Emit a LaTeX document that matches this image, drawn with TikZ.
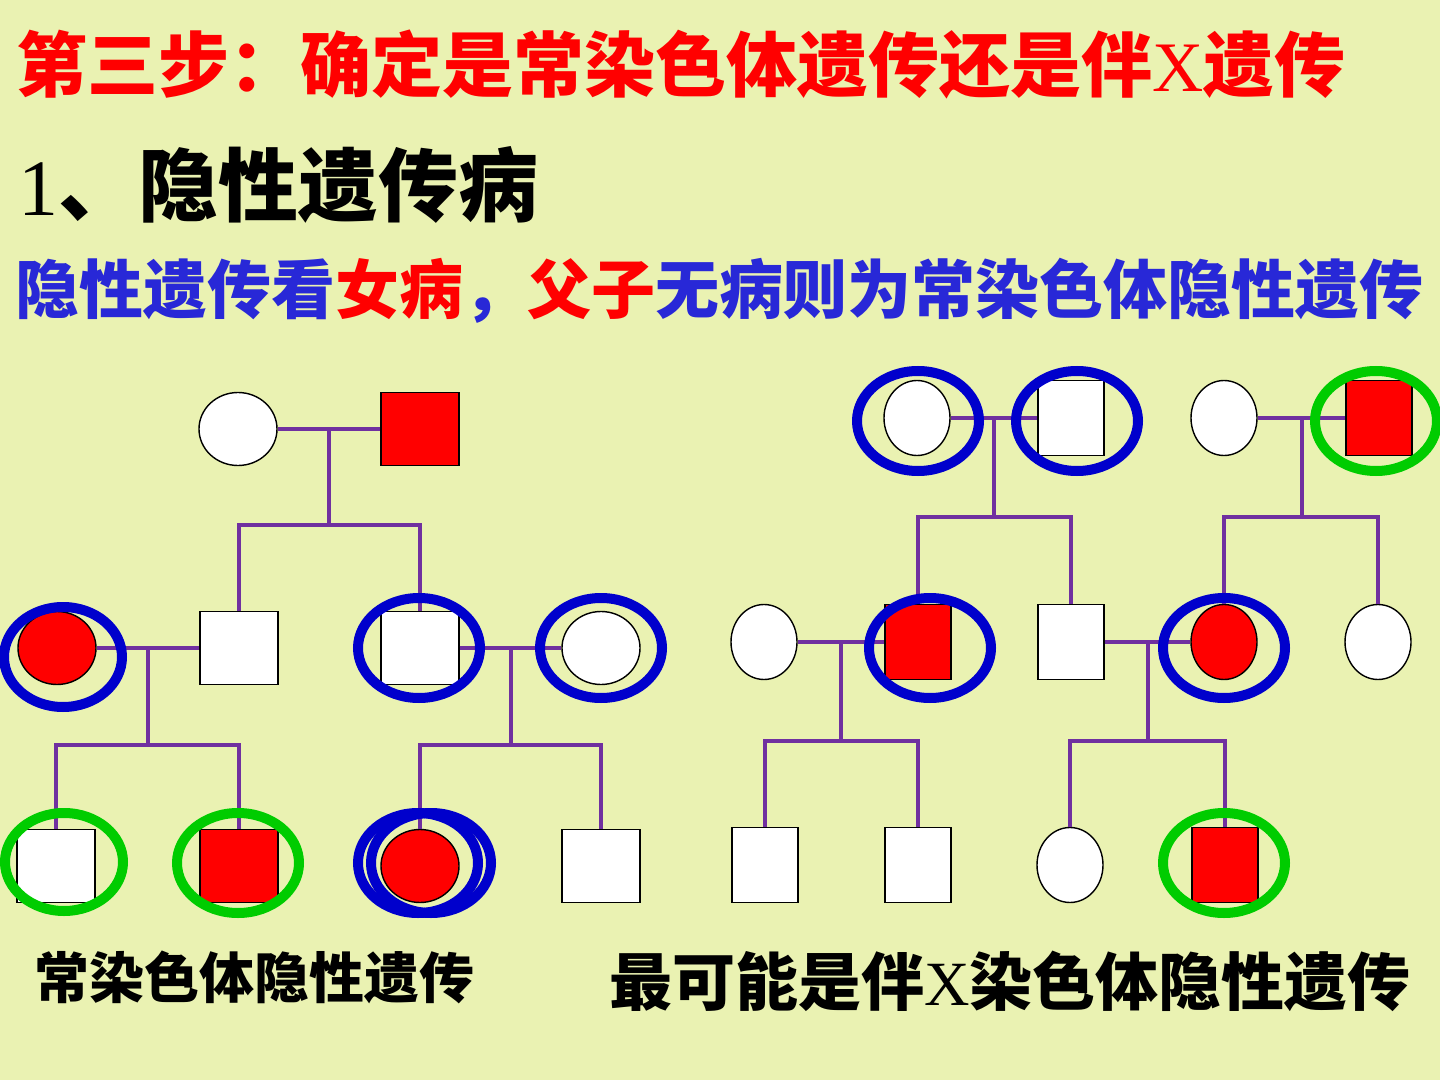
\documentclass[tikz,border=0pt]{standalone}
\usepackage{fontspec}
\setmainfont{Noto Sans CJK SC}
\newfontfamily\latin{Liberation Serif}
\usepackage{tikz}
\usetikzlibrary{shapes.geometric, calc}

\definecolor{slidebg}{RGB}{234,242,178}
\definecolor{lineviolet}{RGB}{112,48,160}
\definecolor{ringblue}{RGB}{0,0,204}
\definecolor{ringgreen}{RGB}{0,204,0}
\definecolor{txtblue}{RGB}{40,40,215}

\begin{document}
\begin{tikzpicture}[
  x=0.5pt, y=-0.5pt,
  person/.style={draw=black, line width=0.7pt, fill=white, inner sep=0pt,
                 minimum width=39pt, minimum height=36.5pt},
  male/.style={person, rectangle},
  female/.style={person, ellipse},
  ill/.style={fill=red},
  narrow/.style={minimum width=33pt, minimum height=37.5pt},
  link/.style={draw=lineviolet, line width=2pt},
  ring/.style={ellipse, draw, line width=5pt, inner sep=0pt,
               minimum width=61pt, minimum height=50pt},
  bluering/.style={ring, draw=ringblue},
  greenring/.style={ring, draw=ringgreen},
  txt/.style={anchor=base west, inner sep=0pt, font=\bfseries}
]
\fill[slidebg] (0,0) rectangle (1440,1080);
\useasboundingbox (0,0) rectangle (1440,1080);

\node[txt, text=red, font=\bfseries\fontsize{35.5pt}{40pt}\selectfont] (t1) at (16,92)
  {第三步：确定是常染色体遗传还是伴{\latin\mdseries X}遗传};
\node[txt, font=\bfseries\fontsize{40pt}{46pt}\selectfont] (t2) at (18,216)
  {{\latin\mdseries 1}、隐性遗传病};
\node[txt, text=txtblue, font=\bfseries\fontsize{32pt}{36pt}\selectfont] (t3) at (15,314)
  {隐性遗传看{\color{red}女病}，{\color{red}父子}无病则为常染色体隐性遗传};

% left pedigree
\node[female] (l11) at (238,429) {};
\node[male, ill] (l12) at (420,429) {};
\node[female, ill] (l21) at (57,648) {};
\node[male] (l22) at (239,648) {};
\node[male] (l23) at (420,648) {};
\node[female] (l24) at (601,648) {};
\node[male] (l31) at (56,866) {};
\node[male, ill] (l32) at (239,866) {};
\node[female, ill] (l33) at (420,866) {};
\node[male] (l34) at (601,866) {};

\coordinate (lm1) at ($(l11.east)!.5!(l12.west)$);
\coordinate (lm2) at ($(l21.east)!.5!(l22.west)$);
\coordinate (lm3) at ($(l23.east)!.5!(l24.west)$);
\draw[link] (l11) -- (l12);
\draw[link] (l21) -- (l22);
\draw[link] (l23) -- (l24);
\draw[link] (lm1) -- ++(0,96) coordinate (lc1);
\draw[link] (lm2) -- ++(0,97) coordinate (lc2);
\draw[link] (lm3) -- ++(0,97) coordinate (lc3);
\draw[link] (l22) |- (lc1) -| (l23);
\draw[link] (l31) |- (lc2) -| (l32);
\draw[link] (l33) |- (lc3) -| (l34);

% right pedigree
\node[female, narrow] (r11) at (917,418) {};
\node[male, narrow] (r12) at (1071,418) {};
\node[female, narrow] (r13) at (1224,418) {};
\node[male, narrow, ill] (r14) at (1379,418) {};
\node[female, narrow] (r21) at (764,642) {};
\node[male, narrow, ill] (r22) at (918,642) {};
\node[male, narrow] (r23) at (1071,642) {};
\node[female, narrow, ill] (r24) at (1224,642) {};
\node[female, narrow] (r25) at (1378,642) {};
\node[male, narrow] (r31) at (765,865) {};
\node[male, narrow] (r32) at (918,865) {};
\node[female, narrow] (r33) at (1070,865) {};
\node[male, narrow, ill] (r34) at (1225,865) {};

\coordinate (rm1) at ($(r11.east)!.5!(r12.west)$);
\coordinate (rm2) at ($(r13.east)!.5!(r14.west)$);
\coordinate (rm3) at ($(r21.east)!.5!(r22.west)$);
\coordinate (rm4) at ($(r23.east)!.5!(r24.west)$);
\draw[link] (r11) -- (r12);
\draw[link] (r13) -- (r14);
\draw[link] (r21) -- (r22);
\draw[link] (r23) -- (r24);
\draw[link] (rm1) -- ++(0,99) coordinate (rc1);
\draw[link] (rm2) -- ++(0,99) coordinate (rc2);
\draw[link] (rm3) -- ++(0,99) coordinate (rc3);
\draw[link] (rm4) -- ++(0,99) coordinate (rc4);
\draw[link] (r22) |- (rc1) -| (r23);
\draw[link] (r24) |- (rc2) -| (r25);
\draw[link] (r31) |- (rc3) -| (r32);
\draw[link] (r33) |- (rc4) -| (r34);

% marks
\node[bluering, minimum width=59pt] (k1) at (63,657) {};
\node[bluering] (k2) at (419,648) {};
\node[bluering] (k3) at (601,648) {};
\node[greenring, minimum width=59pt, minimum height=49pt] (k4) at (64,862) {};
\node[greenring] (k5) at (238,863) {};
\node[bluering, minimum width=60pt] (k6) at (418,863) {};
\node[bluering, minimum width=60pt] (k7) at (431,863) {};
\node[bluering] (k8) at (918,421) {};
\node[bluering] (k9) at (1077,421) {};
\node[greenring] (k10) at (1376,421) {};
\node[bluering] (k11) at (930,648) {};
\node[bluering] (k12) at (1224,648) {};
\node[greenring] (k13) at (1224,863) {};

\node[txt, font=\bfseries\fontsize{27.5pt}{32pt}\selectfont] (b1) at (34,998) {常染色体隐性遗传};
\node[txt, font=\bfseries\fontsize{31.5pt}{36pt}\selectfont] (b2) at (609,1005) {最可能是伴{\latin\mdseries X}染色体隐性遗传};
\end{tikzpicture}
\end{document}
